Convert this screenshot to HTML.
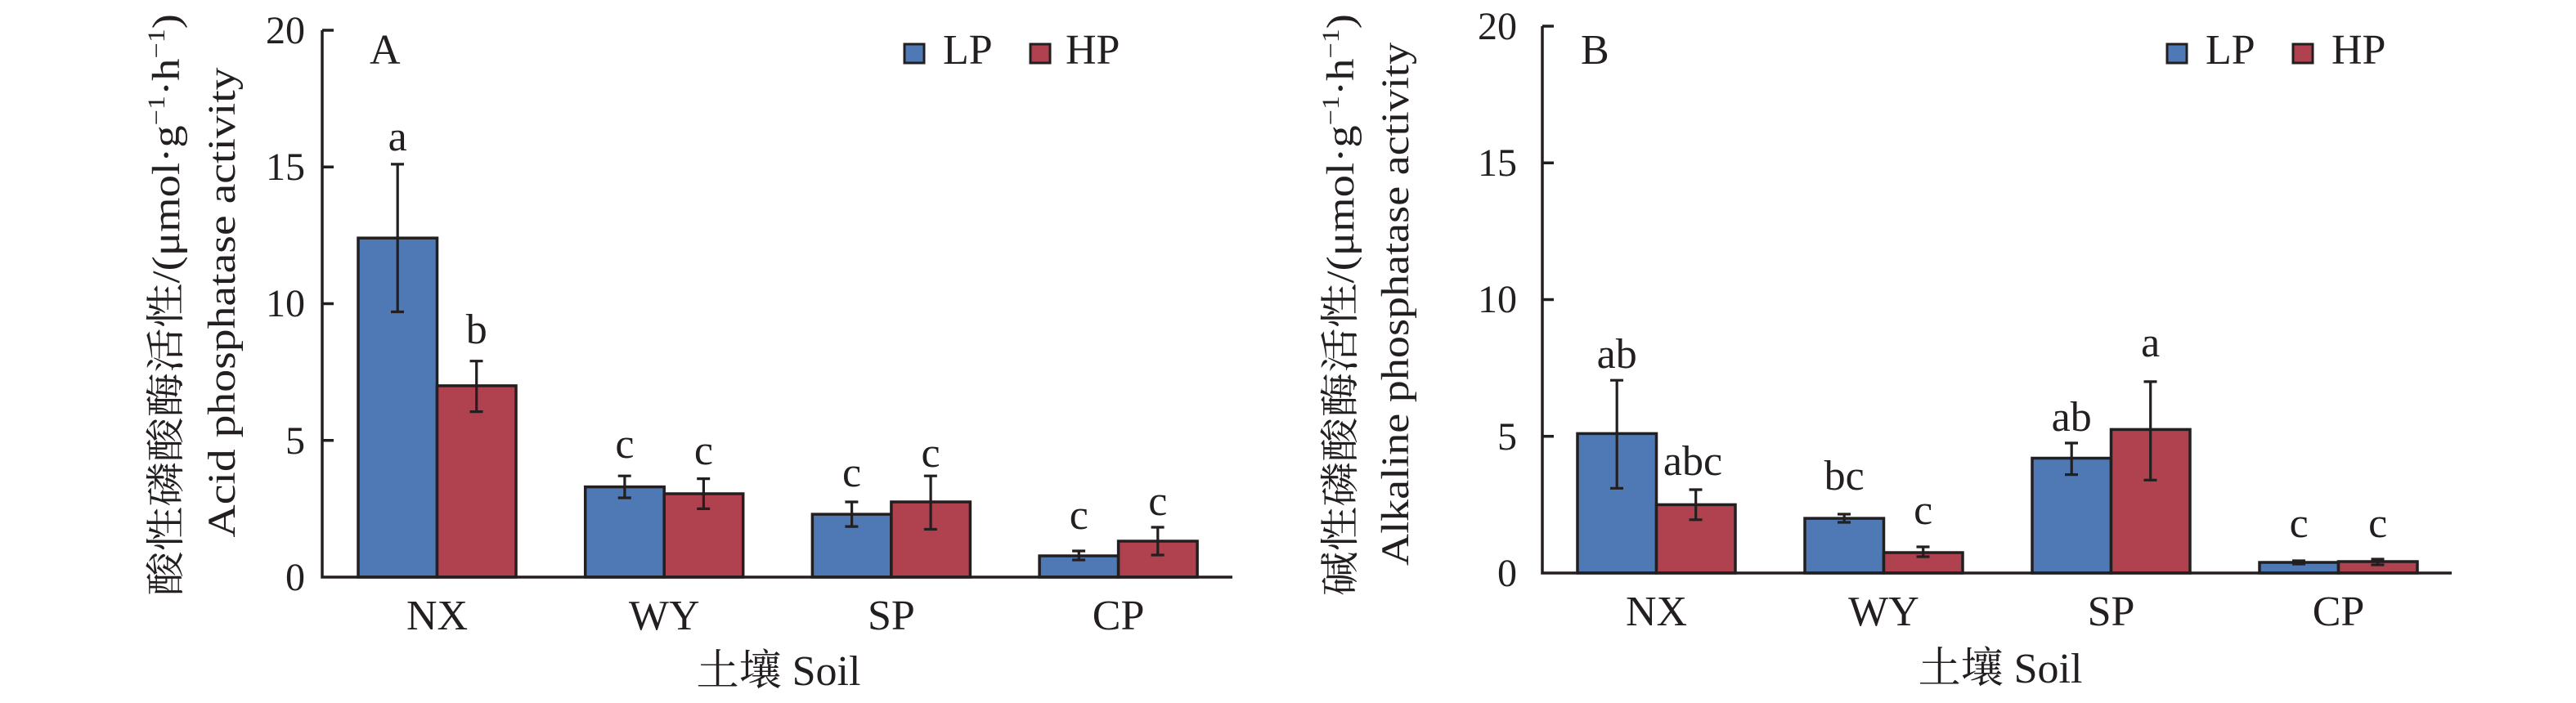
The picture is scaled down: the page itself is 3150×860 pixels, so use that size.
<!DOCTYPE html>
<html><head><meta charset="utf-8"><style>
html,body{margin:0;padding:0;background:#fff;}
svg{display:block;}
text{font-family:"Liberation Serif","Noto Serif CJK SC","Noto Sans CJK SC",serif;fill:#231f20;}
</style></head><body>
<svg width="3150" height="860" viewBox="0 0 3150 860" xmlns="http://www.w3.org/2000/svg">
<g stroke="#231f20" stroke-width="3.5">
<!-- Panel A bars -->
<rect x="438" y="291.2" width="96.5" height="414.8" fill="#4f79b5"/>
<rect x="534.5" y="471.9" width="96.5" height="234.1" fill="#b0424f"/>
<rect x="715.7" y="595.6" width="96.5" height="110.4" fill="#4f79b5"/>
<rect x="812.2" y="604" width="96.5" height="102" fill="#b0424f"/>
<rect x="993.4" y="629.1" width="96.5" height="76.9" fill="#4f79b5"/>
<rect x="1089.9" y="614" width="96.5" height="92" fill="#b0424f"/>
<rect x="1271.1" y="680" width="96.5" height="26" fill="#4f79b5"/>
<rect x="1367.6" y="662" width="96.5" height="44" fill="#b0424f"/>
<!-- Panel B bars -->
<rect x="1929" y="530.4" width="96.5" height="170.6" fill="#4f79b5"/>
<rect x="2025.5" y="617.4" width="96.5" height="83.6" fill="#b0424f"/>
<rect x="2207" y="634.1" width="96.5" height="66.9" fill="#4f79b5"/>
<rect x="2303.5" y="676" width="96.5" height="25" fill="#b0424f"/>
<rect x="2485" y="560.5" width="96.5" height="140.5" fill="#4f79b5"/>
<rect x="2581.5" y="525.4" width="96.5" height="175.6" fill="#b0424f"/>
<rect x="2763" y="688" width="96.5" height="13" fill="#4f79b5"/>
<rect x="2859.5" y="687" width="96.5" height="14" fill="#b0424f"/>
</g>
<g stroke="#231f20" stroke-width="3.5" fill="none">
<!-- Axes A -->
<path d="M394,37 V706 H1507"/>
<path d="M394,37 h14 M394,204.2 h14 M394,371.5 h14 M394,538.7 h14"/>
<!-- Axes B -->
<path d="M1886,32 V701 H2998"/>
<path d="M1886,32 h14 M1886,199.2 h14 M1886,366.5 h14 M1886,533.8 h14"/>
</g>
<g stroke="#231f20" stroke-width="3.2" fill="none">
<!-- error bars A -->
<path d="M486.2,200.9V381.5M478,200.9h16M478,381.5h16"/>
<path d="M582.7,441.7V503.6M574.5,441.7h16M574.5,503.6h16"/>
<path d="M763.9,582.2V609M755.7,582.2h16M755.7,609h16"/>
<path d="M860.4,585.6V622.4M852.2,585.6h16M852.2,622.4h16"/>
<path d="M1041.6,614V644.1M1033.4,614h16M1033.4,644.1h16"/>
<path d="M1138.1,582.2V647.5M1129.9,582.2h16M1129.9,647.5h16"/>
<path d="M1319.3,674V685M1311.1,674h16M1311.1,685h16"/>
<path d="M1415.8,645V679M1407.6,645h16M1407.6,679h16"/>
<!-- error bars B -->
<path d="M1977.2,465.2V597.3M1969,465.2h16M1969,597.3h16"/>
<path d="M2073.7,599V635.8M2065.5,599h16M2065.5,635.8h16"/>
<path d="M2255.2,629V639M2247,629h16M2247,639h16"/>
<path d="M2351.7,669V681M2343.5,669h16M2343.5,681h16"/>
<path d="M2533.2,542V580.6M2525,542h16M2525,580.6h16"/>
<path d="M2629.7,466.9V587.3M2621.5,466.9h16M2621.5,587.3h16"/>
<path d="M2811.2,686V690M2803,686h16M2803,690h16"/>
<path d="M2907.7,684V691M2899.5,684h16M2899.5,691h16"/>
</g>
<!-- significance letters -->
<g font-size="52" text-anchor="middle">
<text x="486.2" y="184">a</text>
<text x="582.7" y="420">b</text>
<text x="763.9" y="560">c</text>
<text x="860.4" y="568">c</text>
<text x="1041.6" y="595">c</text>
<text x="1138.1" y="571">c</text>
<text x="1319.3" y="647">c</text>
<text x="1415.8" y="630">c</text>
<text x="1977.2" y="450">ab</text>
<text x="2070" y="581">abc</text>
<text x="2255.2" y="599">bc</text>
<text x="2351.7" y="641">c</text>
<text x="2533.2" y="527">ab</text>
<text x="2629.7" y="436">a</text>
<text x="2811.2" y="657">c</text>
<text x="2907.7" y="657">c</text>
</g>
<!-- tick labels -->
<g font-size="48" text-anchor="end">
<text x="373" y="53">20</text><text x="373" y="220">15</text><text x="373" y="387">10</text><text x="373" y="555">5</text><text x="373" y="722">0</text>
<text x="1855" y="48">20</text><text x="1855" y="215">15</text><text x="1855" y="382">10</text><text x="1855" y="550">5</text><text x="1855" y="717">0</text>
</g>
<g font-size="52" text-anchor="middle">
<text x="534.5" y="770">NX</text><text x="812.2" y="770">WY</text><text x="1089.9" y="770">SP</text><text x="1367.6" y="770">CP</text>
<text x="2025.5" y="765">NX</text><text x="2303.5" y="765">WY</text><text x="2581.5" y="765">SP</text><text x="2859.5" y="765">CP</text>
<text x="952" y="838">土壤 Soil</text>
<text x="2446" y="835">土壤 Soil</text>
</g>
<!-- panel letters -->
<text x="452" y="78" font-size="52">A</text>
<text x="1933" y="78" font-size="52">B</text>
<!-- legends -->
<g stroke="#231f20" stroke-width="3">
<rect x="1106" y="54" width="24" height="23" fill="#4f79b5"/>
<rect x="1260" y="54" width="24" height="23" fill="#b0424f"/>
<rect x="2650" y="54" width="24" height="23" fill="#4f79b5"/>
<rect x="2804" y="54" width="24" height="23" fill="#b0424f"/>
</g>
<g font-size="52">
<text x="1153" y="78">LP</text><text x="1303" y="78">HP</text>
<text x="2697" y="78">LP</text><text x="2851" y="78">HP</text>
</g>
<!-- y titles -->
<g font-size="48" text-anchor="middle">
<text transform="translate(219,373) rotate(-90)" textLength="712" lengthAdjust="spacingAndGlyphs">酸性磷酸酶活性/(μmol·g<tspan font-size="30" dy="-18">−1</tspan><tspan dy="18">·h</tspan><tspan font-size="30" dy="-18">−1</tspan><tspan dy="18">)</tspan></text>
<text transform="translate(287,370) rotate(-90)" textLength="575" lengthAdjust="spacingAndGlyphs">Acid phosphatase activity</text>
<text transform="translate(1655,373) rotate(-90)" textLength="712" lengthAdjust="spacingAndGlyphs">碱性磷酸酶活性/(μmol·g<tspan font-size="30" dy="-18">−1</tspan><tspan dy="18">·h</tspan><tspan font-size="30" dy="-18">−1</tspan><tspan dy="18">)</tspan></text>
<text transform="translate(1722,372) rotate(-90)" textLength="640" lengthAdjust="spacingAndGlyphs">Alkaline phosphatase activity</text>
</g>
</svg>
</body></html>
